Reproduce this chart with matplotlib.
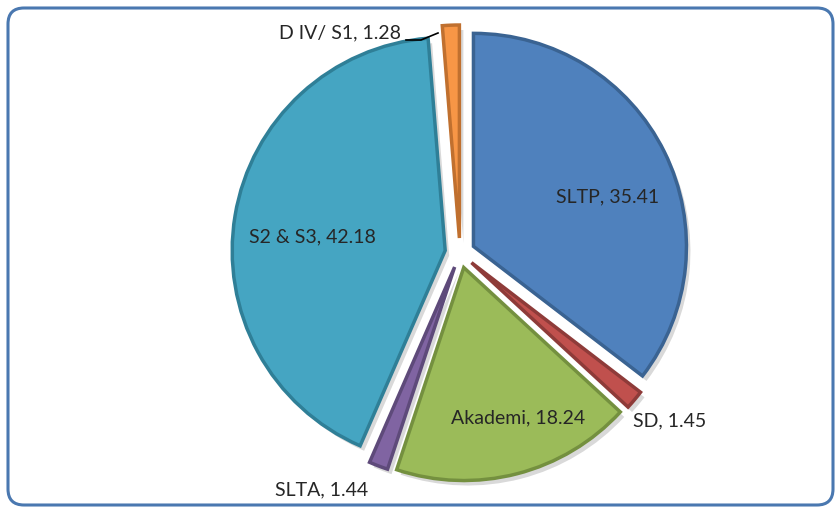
import matplotlib.pyplot as plt
from matplotlib.patches import FancyBboxPatch

# data (percent), clockwise from 12 o'clock
labels = ['SLTP', 'SD', 'Akademi', 'SLTA', 'S2 & S3', 'D IV/ S1']
values = [35.41, 1.45, 18.24, 1.44, 42.18, 1.28]
colors = ['#4f81bd', '#c0504d', '#9bbb59', '#8064a2', '#45a5c2', '#f79646']
edges = ['#3a6392', '#8e3b39', '#74903f', '#5e4a7a', '#2f7f97', '#c0702f']

W, H = 839, 508
cx, cy = 460, H - 253
R = 213
expl = 15  # pie() takes explode in data units

fig = plt.figure(figsize=(W / 100, H / 100), dpi=100)
ax = fig.add_axes([0, 0, 1, 1])

# rounded frame
frame = FancyBboxPatch((8, 3), W - 14, H - 11, boxstyle='round,pad=0,rounding_size=16',
                       fc='white', ec='#4a78b0', lw=2.2, zorder=0)
ax.add_patch(frame)

# soft shadow
wedges, _ = ax.pie(values, startangle=90, counterclock=False, center=(cx + 4, cy - 5),
                   radius=R, explode=[expl] * 6, colors=['#000000'] * 6,
                   wedgeprops=dict(lw=0, alpha=0.15), frame=True)
for w in wedges:
    w.set_zorder(1)

wedges, _ = ax.pie(values, startangle=90, counterclock=False, center=(cx, cy),
                   radius=R, explode=[expl] * 6, colors=colors, frame=True,
                   wedgeprops=dict(lw=2.5))
for w, e in zip(wedges, edges):
    w.set_edgecolor(e)
    w.set_zorder(2)

ax.set_xlim(0, W)
ax.set_ylim(0, H)
ax.set_aspect('auto')
ax.axis('off')

font = dict(family=['Lato', 'DejaVu Sans'], fontsize=14, color='#262626', zorder=5)
lab_pos = [(608, 197), (670, 421), (518, 418), (322, 490), (312, 237), (340, 33)]
for lab, v, (x, y) in zip(labels, values, lab_pos):
    ax.text(x, H - y, f'{lab}, {v:.2f}', ha='center', va='center', **font)

# leader line for D IV/ S1
ax.plot([406, 421, 438], [H - 40, H - 40, H - 33], color='black', lw=1.2, zorder=5)

fig.savefig('out.png', dpi=100)
